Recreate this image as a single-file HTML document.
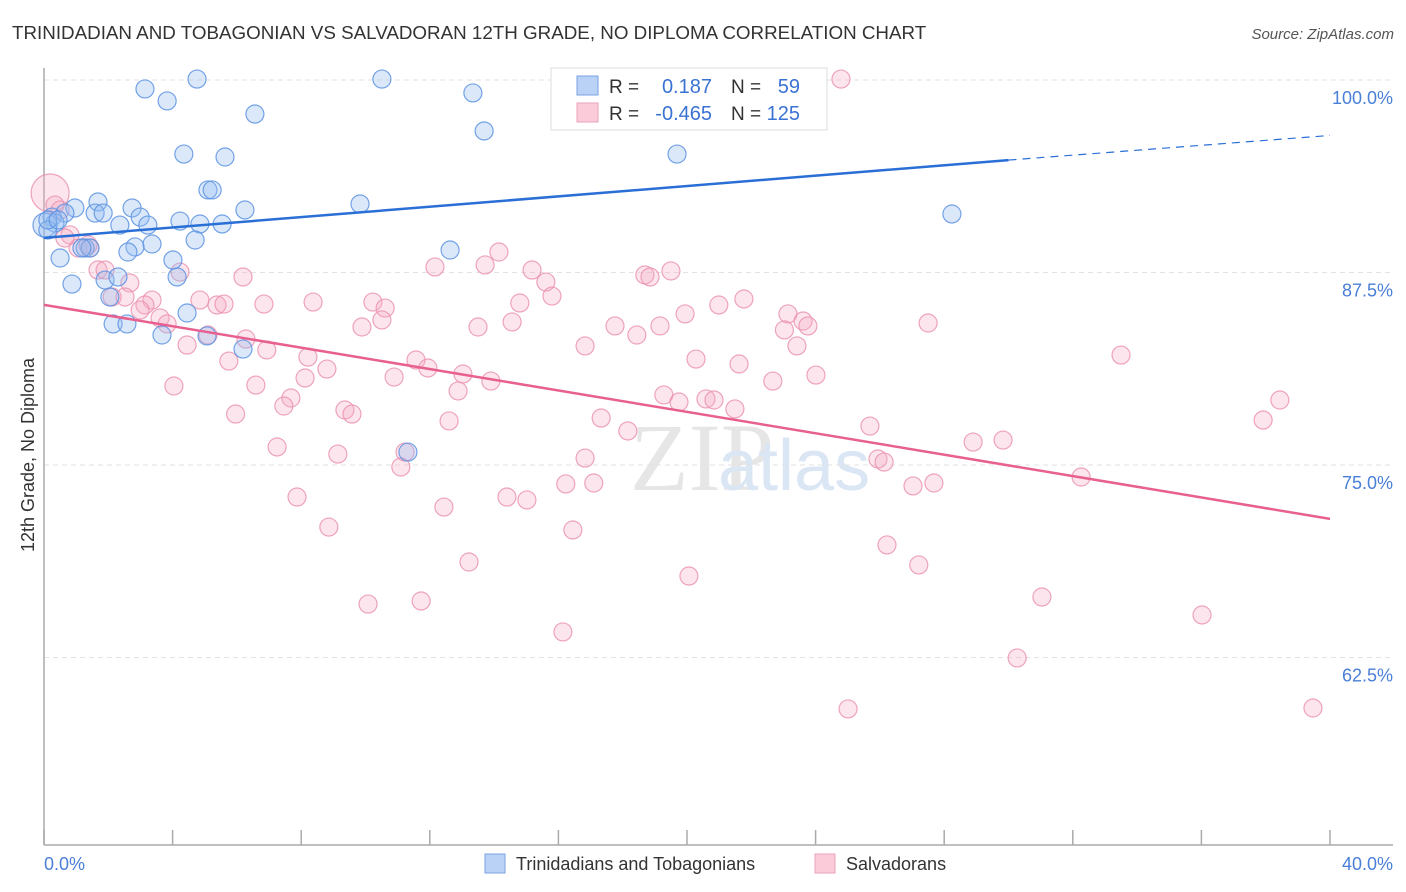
<!DOCTYPE html>
<html><head><meta charset="utf-8"><style>
body{margin:0;background:#fff;font-family:"Liberation Sans",sans-serif}
svg{display:block}
</style></head><body>
<svg id="chart" width="1406" height="892" xmlns="http://www.w3.org/2000/svg">
<text x="12" y="39" font-size="18.8" fill="#333">TRINIDADIAN AND TOBAGONIAN VS SALVADORAN 12TH GRADE, NO DIPLOMA CORRELATION CHART</text>
<text x="1394" y="39" font-size="15" fill="#555" text-anchor="end" font-style="italic">Source: ZipAtlas.com</text>
<text x="630" y="490" font-size="96" fill="#e6e6e6" font-family="Liberation Serif">ZIP</text>
<text x="718" y="490" font-size="72" fill="#dbe6f5">atlas</text>
<g id="grid"></g><g id="axes"></g><g id="pts"></g><g id="lines"></g>
<text transform="translate(34,455) rotate(-90)" font-size="18" fill="#333" text-anchor="middle">12th Grade, No Diploma</text>
<text x="44" y="870" font-size="18" fill="#4a7fd8">0.0%</text>
<text x="1393" y="870" font-size="18" fill="#4a7fd8" text-anchor="end">40.0%</text>
<g>
<rect x="551" y="68" width="276" height="62" fill="#fff" stroke="#ddd"/>
<rect x="577" y="76" width="21" height="19" fill="#b9d2f5" stroke="#7aa3e3"/>
<rect x="577" y="103" width="21" height="19" fill="#fbcbd9" stroke="#eba3ba"/>
<text x="609" y="93" font-size="19" fill="#333">R =</text>
<text x="712" y="93" font-size="20" fill="#3a72d4" text-anchor="end">0.187</text>
<text x="731" y="93" font-size="19" fill="#333">N =</text>
<text x="800" y="93" font-size="20" fill="#3a72d4" text-anchor="end">59</text>
<text x="609" y="120" font-size="19" fill="#333">R =</text>
<text x="712" y="120" font-size="20" fill="#3a72d4" text-anchor="end">-0.465</text>
<text x="731" y="120" font-size="19" fill="#333">N =</text>
<text x="800" y="120" font-size="20" fill="#3a72d4" text-anchor="end">125</text>
</g>
<g>
<rect x="485" y="854" width="20" height="19" fill="#b9d2f5" stroke="#7aa3e3"/>
<text x="516" y="870" font-size="18" fill="#333">Trinidadians and Tobagonians</text>
<rect x="815" y="854" width="20" height="19" fill="#fbcbd9" stroke="#eba3ba"/>
<text x="846" y="870" font-size="18" fill="#333">Salvadorans</text>
</g>
</svg>
<script>
const yTicks=[100,87.5,75,62.5];
const yTickLabels=["100.0%","87.5%","75.0%","62.5%"];
const xTicks=[0,4,8,12,16,20,24,28,32,36,40];
const blueX=[3.14,4.76,3.83,10.51,13.34,6.56,13.69,4.35,5.63,19.69,5.10,5.23,9.83,28.24,1.68,0.96,2.74,2.99,0.65,1.59,1.84,0.25,0.34,0.03,0.12,2.36,3.23,4.23,4.85,5.54,6.25,4.70,3.36,2.83,2.61,1.28,1.43,0.50,12.63,4.01,0.87,2.05,1.90,2.30,4.14,4.45,2.15,2.58,3.67,5.07,6.19,11.32,1.18,0.12,0.44];
const blueY=[99.42,100.06,98.64,100.06,99.16,97.79,96.69,95.19,95.0,95.19,92.86,92.86,91.95,91.30,92.08,91.69,91.69,91.10,91.36,91.36,91.36,91.10,90.71,90.58,90.26,90.58,90.58,90.84,90.65,90.65,91.56,89.61,89.35,89.16,88.83,89.09,89.09,88.44,88.96,88.31,86.75,85.91,87.01,87.21,87.21,84.87,84.16,84.16,83.44,83.38,82.53,75.84,89.09,90.91,90.91];
const pinkX=[24.79,0.19,0.50,0.81,1.06,1.43,1.68,1.90,2.67,2.12,2.52,3.36,3.14,3.61,3.83,4.23,4.85,5.38,5.60,6.19,6.84,8.37,10.23,10.61,10.51,9.89,12.16,13.72,14.15,15.18,15.61,15.80,14.80,14.56,13.50,18.69,18.85,19.50,21.77,20.99,19.94,19.16,18.44,17.76,16.83,23.14,23.61,23.76,23.03,23.42,27.50,33.50,20.28,21.62,22.67,24.01,19.28,19.75,20.59,20.84,21.49,17.33,18.16,25.69,28.90,29.83,37.92,38.44,25.94,26.13,27.03,27.68,32.26,11.57,11.94,13.03,13.90,12.88,12.60,10.89,8.21,8.80,8.12,9.36,9.58,7.68,7.46,6.93,6.28,5.75,6.59,5.96,4.45,5.10,4.04,7.25,9.14,11.23,11.10,16.83,16.23,17.10,14.40,15.02,12.44,7.87,8.86,16.45,13.22,20.06,26.22,27.21,11.73,10.08,16.14,31.04,36.02,30.27,25.01,39.47,1.37,0.65,0.34,2.99];
const pinkY=[100.06,92.66,91.56,89.94,89.09,89.09,87.66,87.66,86.82,85.91,85.91,85.71,85.39,84.55,84.16,87.53,85.71,85.39,85.45,87.21,85.45,85.58,85.58,85.19,84.42,83.96,87.86,87.99,88.83,87.66,86.88,85.97,85.52,84.29,83.96,87.34,87.21,87.60,85.78,85.39,84.81,84.03,83.44,84.03,82.73,84.81,84.35,84.03,83.77,82.73,84.22,82.14,81.88,81.56,80.45,80.84,79.55,79.09,79.29,79.22,78.64,78.05,77.21,77.53,76.49,76.62,77.92,79.22,75.39,75.19,73.64,73.83,74.22,81.82,81.30,80.91,80.45,79.81,77.86,80.71,82.01,81.23,80.65,78.57,78.31,79.35,78.83,82.47,83.18,81.75,80.19,78.31,82.79,83.44,80.13,76.17,75.71,75.84,74.87,75.45,73.77,73.83,72.92,72.73,72.27,72.92,70.97,70.78,68.70,67.79,69.81,68.51,66.17,65.97,64.16,66.43,65.26,62.47,59.16,59.22,89.29,89.74,91.88,85.06];
const blueTrend=[[0,89.75],[30,94.8],[40,96.4]];
const pinkTrend=[[0,85.4],[40,71.5]];
const NS="http://www.w3.org/2000/svg";
const X=v=>44+v/40*1286;
const Y=v=>80+(100-v)*15.4;
function mk(t,a,p){const e=document.createElementNS(NS,t);for(const k in a)e.setAttribute(k,a[k]);document.getElementById(p).appendChild(e);return e;}
yTicks.forEach((t,i)=>{
 const l=mk('line',{x1:44,x2:1393,y1:Y(t),y2:Y(t),stroke:'#e2e2e2','stroke-dasharray':'5,4'},'grid');
 
 
 const tx=mk('text',{x:1393,y:Y(t)+24,'font-size':18,fill:'#4a7fd8','text-anchor':'end'},'grid');
 tx.textContent=yTickLabels[i];
 
 
});
const ax=mk('line',{x1:44,x2:44,y1:68,y2:845,stroke:'#aaa','stroke-width':1.5},'axes');


const bx=mk('line',{x1:44,x2:1393,y1:845,y2:845,stroke:'#aaa','stroke-width':1.5},'axes');


xTicks.forEach(t=>{
 const l=mk('line',{x1:X(t),x2:X(t),y1:830,y2:845,stroke:'#aaa','stroke-width':1.5},'axes');
 
 
});
pinkX.forEach((v,i)=>{
 const r=i===1?19:9;
 const c=mk('circle',{cx:X(v),cy:Y(pinkY[i]),r:r,fill:'rgba(246,170,195,0.3)',stroke:'rgba(234,143,173,0.8)','stroke-width':1.2},'pts');
 
 
});
blueX.forEach((v,i)=>{
 const r=i===23?12:9;
 const c=mk('circle',{cx:X(v),cy:Y(blueY[i]),r:r,fill:'rgba(150,190,240,0.35)',stroke:'rgba(93,147,226,0.85)','stroke-width':1.2},'pts');
 
 
});
const b1=mk('line',{x1:X(blueTrend[0][0]),y1:Y(blueTrend[0][1]),x2:X(blueTrend[1][0]),y2:Y(blueTrend[1][1]),stroke:'#2a6fd6','stroke-width':2.5},'lines');


const b2=mk('line',{x1:X(blueTrend[1][0]),y1:Y(blueTrend[1][1]),x2:X(blueTrend[2][0]),y2:Y(blueTrend[2][1]),stroke:'#2a6fd6','stroke-width':1.2,'stroke-dasharray':'8,6'},'lines');


const p1=mk('line',{x1:X(pinkTrend[0][0]),y1:Y(pinkTrend[0][1]),x2:X(pinkTrend[1][0]),y2:Y(pinkTrend[1][1]),stroke:'#e8608f','stroke-width':2.5},'lines');


</script>
</body></html>
